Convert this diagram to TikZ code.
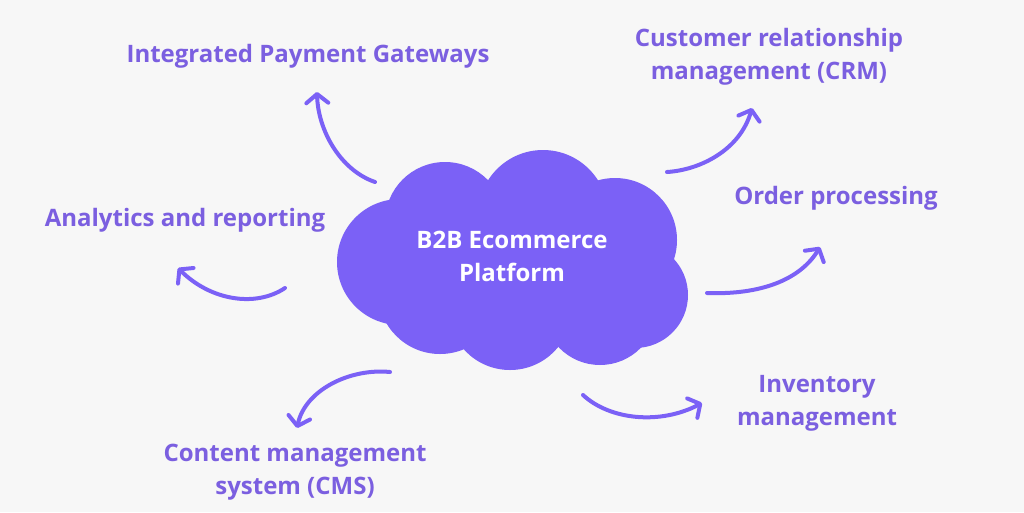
\documentclass[tikz,border=0pt]{standalone}
\usepackage{fontspec}
\setmainfont{Open Sans}
\usetikzlibrary{arrows.meta}
\definecolor{cloudpurple}{HTML}{7B61F6}
\definecolor{textpurple}{HTML}{7B5FE0}
\definecolor{bggray}{HTML}{F7F7F7}

\begin{document}
\begin{tikzpicture}[x=1pt,y=-1pt,
  lbl/.style={text=textpurple,font=\bfseries\fontsize{24}{33}\selectfont,align=center},
  curly/.style={cloudpurple,line width=4pt,line cap=round,
    -{Straight Barb[round,length=9pt,width=22pt]}}]
% background
\fill[bggray] (0,0) rectangle (1024,512);

% Centre: cloud built from lobes
\begin{scope}[fill=cloudpurple]
\fill (543,215) circle (65);
\fill (445,222) circle (60);
\fill (615,240) circle (62);
\fill (635,295) circle (53);
\fill (600,308) circle (57);
\fill (510,308) circle (62);
\fill (440,292) circle (62);
\fill (400,262) circle (63);
\fill (420,230) rectangle (620,320);
\end{scope}
\node[lbl,text=white] (platform) at (512,256) {B2B Ecommerce\\Platform};

% Labels round the cloud
\node[lbl] (igw) at (308,56) {Integrated Payment Gateways};
\node[lbl] (crm) at (769,57) {Customer relationship\\management (CRM)};
\node[lbl] (order) at (836,198) {Order processing};
\node[lbl] (analytics) at (185,220) {Analytics and reporting};
\node[lbl] (inventory) at (817,403) {Inventory\\management};
\node[lbl] (cms) at (295,472) {Content management\\system (CMS)};

% Arrow ends
\coordinate (igw-s) at (375,182);   \coordinate (igw-e) at (317,92);
\coordinate (crm-s) at (667,172);   \coordinate (crm-e) at (752,108);
\coordinate (order-s) at (707,293); \coordinate (order-e) at (820,247);
\coordinate (inv-s) at (583,395);   \coordinate (inv-e) at (702,403);
\coordinate (cms-s) at (390,372);   \coordinate (cms-e) at (297,428);
\coordinate (ana-s) at (285,288);   \coordinate (ana-e) at (178,268);

% Curly arrows
\draw[curly] (igw-s) .. controls (340,170) and (318,130) .. (igw-e);
\draw[curly] (crm-s) .. controls (700,170) and (740,150) .. (crm-e);
\draw[curly] (order-s) .. controls (760,295) and (800,280) .. (order-e);
\draw[curly] (inv-s) .. controls (610,420) and (660,425) .. (inv-e);
\draw[curly] (cms-s) .. controls (350,368) and (305,390) .. (cms-e);
\draw[curly] (ana-s) .. controls (255,308) and (210,300) .. (ana-e);
\end{tikzpicture}
\end{document}
